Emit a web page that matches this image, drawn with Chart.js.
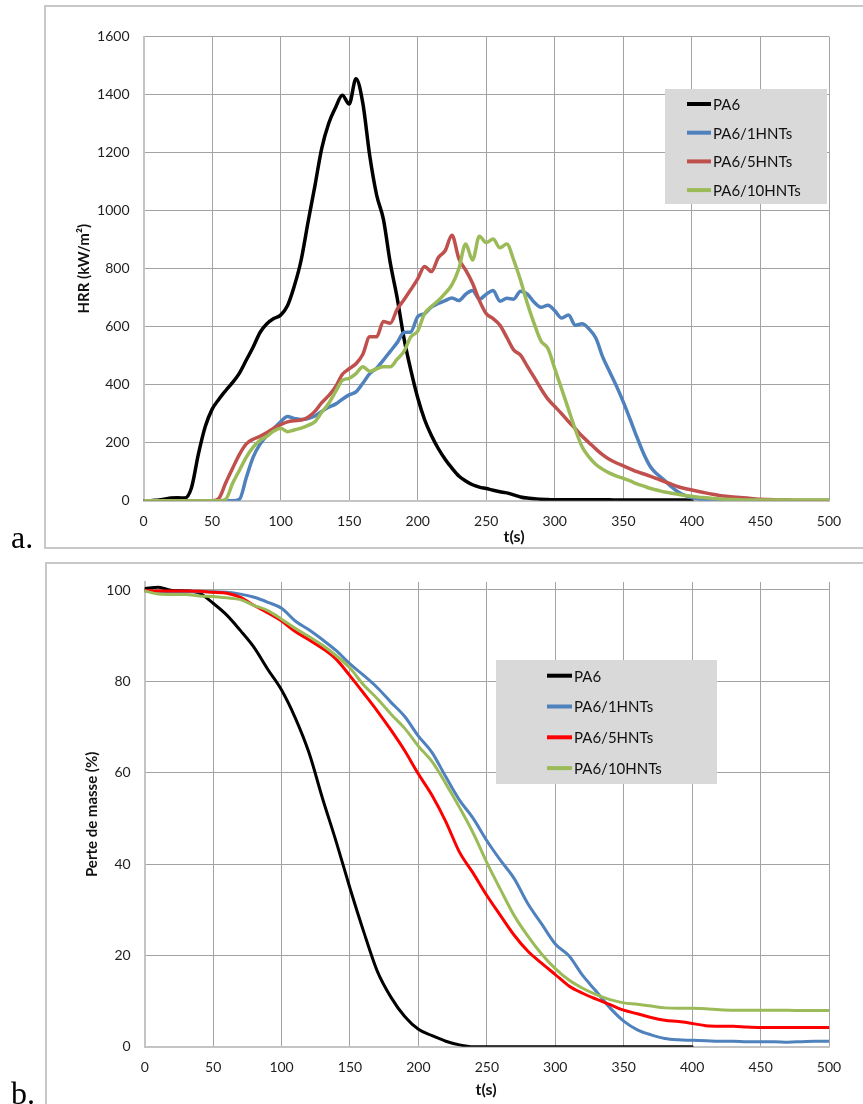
<!DOCTYPE html>
<html>
<head>
<meta charset="utf-8">
<script src="https://cdn.jsdelivr.net/npm/chart.js@4.4.1/dist/chart.umd.min.js"></script>
<style>
  body { margin: 0; background: #fff; width: 863px; height: 1104px; overflow: hidden; position: relative; }
  .frame { position: absolute; border: 2px solid #c8c8c8; box-sizing: border-box; }
  #frameA { left: 44px; top: 5px; width: 900px; height: 544px; }
  #frameB { left: 45px; top: 562px; width: 900px; height: 600px; }
  canvas { position: absolute; left: 0; }
  #chartA { top: 0; }
  #chartB { top: 556px; }
  .tag { position: absolute; left: 11px; font-family: "Liberation Serif", "Times New Roman", serif; font-size: 32px; line-height: 32px; color: #000; }
</style>
</head>
<body>
<div class="frame" id="frameA"></div>
<div class="frame" id="frameB"></div>
<canvas id="chartA" width="863" height="548"></canvas>
<canvas id="chartB" width="863" height="548"></canvas>
<div class="tag" style="top:521px">a.</div>
<div class="tag" style="top:1077px">b.</div>
<script>
// ---------- données ----------
const seriesNames = ["PA6", "PA6/1HNTs", "PA6/5HNTs", "PA6/10HNTs"];
const timeTicks = [0, 50, 100, 150, 200, 250, 300, 350, 400, 450, 500];
const hrrTicks = [0, 200, 400, 600, 800, 1000, 1200, 1400, 1600];
const massTicks = [0, 20, 40, 60, 80, 100];

// HRR (kW/m²), pas de 5 s
const hrrTime = [
  0, 5, 10, 15, 20, 25, 30, 35, 40, 45,
  50, 55, 60, 65, 70, 75, 80, 85, 90, 95,
  100, 105, 110, 115, 120, 125, 130, 135, 140, 145,
  150, 155, 160, 165, 170, 175, 180, 185, 190, 195,
  200, 205, 210, 215, 220, 225, 230, 235, 240, 245,
  250, 255, 260, 265, 270, 275, 280, 285, 290, 295,
  300, 305, 310, 315, 320, 325, 330, 335, 340, 345,
  350, 355, 360, 365, 370, 375, 380, 385, 390, 395,
  400, 405, 410, 415, 420, 425, 430, 435, 440, 445,
  450, 455, 460, 465, 470, 475, 480, 485, 490, 495,
  500
];
const hrrPA6 = [
  0, 0, 2, 5, 9, 10, 9, 45, 160, 255,
  315, 350, 380, 408, 440, 485, 530, 580, 610, 628,
  640, 672, 740, 830, 960, 1085, 1215, 1300, 1355, 1398,
  1368, 1455, 1370, 1190, 1055, 970, 820, 700, 560, 450,
  355, 280, 225, 180, 143, 112, 85, 68, 55, 47,
  42, 36, 31, 27, 20, 13, 9, 7, 5, 4,
  3, 3, 3, 3, 3, 3, 3, 3, 3, 2,
  2, 2, 2, 2, 2, 2, 2, 2, 2, 2,
  1
];
const hrr1HNT = [
  0, 0, 0, 0, 0, 0, 0, 0, 0, 0,
  0, 0, 0, 0, 5, 80, 150, 195, 225, 248,
  272, 290, 284, 280, 283, 292, 308, 322, 333, 350,
  365, 375, 405, 438, 457, 485, 515, 545, 580, 582,
  635, 645, 668, 680, 690, 699, 690, 712, 725, 695,
  712, 725, 688, 698, 695, 722, 712, 684, 667, 674,
  655, 630, 640, 605, 610, 592, 560, 495, 445, 395,
  340, 280, 218, 160, 115, 90, 70, 48, 30, 18,
  10, 6, 3, 1, 1, 1, 1, 1, 1, 1,
  1, 1, 1, 1, 1, 1, 1, 1, 1, 1,
  1
];
const hrr5HNT = [
  0, 0, 0, 0, 0, 0, 0, 0, 0, 0,
  0, 8, 62, 112, 160, 196, 212, 222, 235, 250,
  262, 272, 276, 278, 288, 308, 338, 362, 392, 435,
  455, 472, 505, 565, 565, 618, 612, 660, 693, 728,
  765, 808, 790, 838, 862, 915, 835, 795, 750, 690,
  645, 628, 605, 563, 520, 502, 463, 425, 385, 350,
  325, 300, 273, 248, 222, 200, 178, 158, 142, 130,
  120, 110, 100, 92, 84, 75, 66, 57, 48, 42,
  37, 32, 27, 22, 18, 15, 13, 11, 9, 7,
  5, 4, 3, 2, 2, 1, 1, 1, 1, 1,
  1
];
const hrr10HNT = [
  0, 0, 0, 0, 0, 0, 0, 0, 0, 0,
  0, 0, 5, 60, 105, 150, 185, 208, 222, 240,
  250, 238, 244, 250, 260, 272, 305, 335, 375, 415,
  422, 438, 462, 446, 455, 462, 462, 488, 515, 565,
  585, 645, 670, 690, 715, 745, 800, 885, 830, 912,
  890, 902, 872, 885, 830, 760, 680, 610, 550, 525,
  455, 385, 315, 245, 185, 150, 125, 108, 95, 85,
  77, 68, 58, 50, 42, 36, 30, 26, 22, 18,
  15, 12, 10, 8, 6, 5, 4, 3, 2, 2,
  2, 2, 2, 2, 2, 2, 2, 2, 2, 2,
  2
];

// Perte de masse (%), pas de 10 s
const massTime = [
  0, 10, 20, 30, 40, 50, 60, 70, 80, 90,
  100, 110, 120, 130, 140, 150, 160, 170, 180, 190,
  200, 210, 220, 230, 240, 250, 260, 270, 280, 290,
  300, 310, 320, 330, 340, 350, 360, 370, 380, 390,
  400, 410, 420, 430, 440, 450, 460, 470, 480, 490,
  500
];
const massPA6 = [
  100.3, 100.6, 99.9, 99.8, 99.3, 97.1, 94.5, 91.1, 87.4, 82.6,
  78.1, 72.0, 64.4, 54.3, 44.8, 34.7, 25.2, 16.5, 10.8, 6.6,
  3.8, 2.4, 1.2, 0.4, 0, 0, 0, 0, 0, 0,
  0, 0, 0, 0, 0, 0, 0, 0, 0, 0,
  0
];
const mass1HNT = [
  99.8, 99.7, 99.6, 99.6, 99.6, 99.6, 99.5, 99.1, 98.4, 97.3,
  96.0, 93.2, 91.3, 89.1, 86.7, 83.8, 81.3, 78.6, 75.4, 72.3,
  68.0, 64.4, 59.1, 54.0, 50.0, 45.1, 40.8, 36.8, 31.3, 26.9,
  22.5, 19.9, 15.6, 12.1, 8.5, 5.6, 3.7, 2.6, 1.8, 1.5,
  1.4, 1.3, 1.2, 1.2, 1.1, 1.1, 1.1, 1.0, 1.1, 1.2,
  1.2
];
const mass5HNT = [
  99.9, 99.8, 99.8, 99.8, 99.7, 99.5, 99.3, 98.4, 96.6, 95.0,
  93.2, 90.9, 89.1, 87.2, 84.8, 81.2, 77.4, 73.5, 69.3, 64.8,
  59.7, 55.0, 49.3, 42.6, 38.0, 33.1, 28.7, 24.4, 20.9, 18.3,
  15.8, 13.3, 11.7, 10.4, 9.2, 8.0, 7.2, 6.4, 5.8, 5.5,
  5.1, 4.6, 4.5, 4.5, 4.3, 4.2, 4.2, 4.2, 4.2, 4.2,
  4.2
];
const mass10HNT = [
  99.8, 99.1, 99.0, 99.0, 98.7, 98.6, 98.3, 97.9, 96.6, 95.5,
  93.6, 91.6, 89.8, 87.9, 85.6, 82.9, 79.2, 76.2, 72.8, 69.7,
  65.8, 62.4, 57.6, 52.4, 46.8, 40.3, 34.4, 28.7, 24.2, 20.3,
  17.1, 14.6, 12.8, 11.4, 10.3, 9.6, 9.3, 8.9, 8.5, 8.4,
  8.4, 8.3, 8.1, 8.0, 8.0, 8.0, 8.0, 8.0, 7.9, 7.9,
  7.9
];

// ---------- helpers ----------
const toPoints = (times, vals) => vals.map((v, i) => ({ x: times[i], y: v }));

function makeDataset(label, times, vals, color, width, order) {
  return {
    label,
    data: toPoints(times, vals),
    borderColor: color,
    borderWidth: width,
    pointRadius: 0,
    fill: false,
    cubicInterpolationMode: "monotone",
    borderJoinStyle: "round",
    borderCapStyle: "round",
    order,
  };
}

const tickFont = { family: "Lato", size: 14 };
const gridStyle = { color: "#a3a3a3", lineWidth: 1, drawTicks: false };
const borderStyle = { color: "#c4c4c4", width: 2 };
const plainNumber = (v) => String(v);

function makeScales(yTicks, yMax, yWidth, xHeight) {
  return {
    x: {
      type: "linear",
      min: 0,
      max: 500,
      afterBuildTicks: (a) => { a.ticks = timeTicks.map((v) => ({ value: v })); },
      afterFit: (a) => { a.height = xHeight; },
      grid: gridStyle,
      border: borderStyle,
      ticks: { padding: 12, color: "#1f1f1f", font: tickFont, maxRotation: 0, autoSkip: false, callback: plainNumber },
    },
    y: {
      type: "linear",
      min: 0,
      max: yMax,
      afterBuildTicks: (a) => { a.ticks = yTicks.map((v) => ({ value: v })); },
      afterFit: (a) => { a.width = yWidth; },
      grid: gridStyle,
      border: borderStyle,
      ticks: { padding: 14, color: "#1f1f1f", font: tickFont, autoSkip: false, callback: plainNumber },
    },
  };
}

// titres d'axes + légende grise
const decor = {
  id: "decor",
  afterDraw(chart, args, o) {
    const { ctx, chartArea } = chart;
    ctx.save();
    ctx.fillStyle = "#111";
    ctx.textAlign = "center";
    ctx.textBaseline = "middle";
    ctx.font = "bold " + o.yTitleSize + "px Lato";
    ctx.save();
    ctx.translate(o.yTitleX, (chartArea.top + chartArea.bottom) / 2);
    ctx.rotate(-Math.PI / 2);
    ctx.fillText(o.yTitle, 0, 0);
    ctx.restore();
    ctx.font = "bold 16px Lato";
    ctx.fillText(o.xTitle, o.xTitleX, o.xTitleY);

    const L = o.legend;
    ctx.fillStyle = "#d9d9d9";
    ctx.fillRect(L.x, L.y, L.w, L.h);
    ctx.font = "15px Lato";
    ctx.textAlign = "left";
    chart.data.datasets.forEach((ds, i) => {
      const y = L.firstRow + i * L.rowGap;
      ctx.strokeStyle = ds.borderColor;
      ctx.lineWidth = 4;
      ctx.beginPath();
      ctx.moveTo(L.lineX, y);
      ctx.lineTo(L.lineX + L.lineLen, y);
      ctx.stroke();
      ctx.fillStyle = "#111";
      ctx.fillText(ds.label, L.lineX + L.lineLen + 2, y + 1);
    });
    ctx.restore();
  },
};

// ---------- graphique a : HRR ----------
new Chart(document.getElementById("chartA"), {
  type: "line",
  data: {
    datasets: [
      makeDataset(seriesNames[0], hrrTime, hrrPA6, "#000000", 3.5, 3),
      makeDataset(seriesNames[1], hrrTime, hrr1HNT, "#4f81bd", 3.5, 2),
      makeDataset(seriesNames[2], hrrTime, hrr5HNT, "#c0504d", 3.5, 1),
      makeDataset(seriesNames[3], hrrTime, hrr10HNT, "#9bbb59", 3.5, 0),
    ],
  },
  options: {
    responsive: false,
    animation: false,
    events: [],
    layout: { padding: { top: 36.7, right: 34, bottom: 0, left: 0 } },
    scales: makeScales(hrrTicks, 1600, 143.5, 47.3),
    plugins: {
      legend: { display: false },
      tooltip: { enabled: false },
      decor: {
        yTitle: "HRR (kW/m²)",
        yTitleSize: 15,
        yTitleX: 84,
        xTitle: "t(s)",
        xTitleX: 514,
        xTitleY: 537,
        legend: { x: 665, y: 89, w: 162, h: 115, lineX: 687, lineLen: 24, firstRow: 104, rowGap: 28.7 },
      },
    },
  },
  plugins: [decor],
});

// ---------- graphique b : perte de masse ----------
new Chart(document.getElementById("chartB"), {
  type: "line",
  data: {
    datasets: [
      makeDataset(seriesNames[0], massTime, massPA6, "#000000", 3, 3),
      makeDataset(seriesNames[1], massTime, mass1HNT, "#4f81bd", 3, 2),
      makeDataset(seriesNames[2], massTime, mass5HNT, "#ff0000", 3, 1),
      makeDataset(seriesNames[3], massTime, mass10HNT, "#9bbb59", 3, 0),
    ],
  },
  options: {
    responsive: false,
    animation: false,
    events: [],
    layout: { padding: { top: 26, right: 34, bottom: 0, left: 0 } },
    scales: makeScales(massTicks, 101.75, 144.7, 57.3),
    plugins: {
      legend: { display: false },
      tooltip: { enabled: false },
      decor: {
        yTitle: "Perte de masse (%)",
        yTitleSize: 15,
        yTitleX: 92,
        xTitle: "t(s)",
        xTitleX: 486,
        xTitleY: 534,
        legend: { x: 496, y: 104, w: 221, h: 124, lineX: 547, lineLen: 25, firstRow: 119.7, rowGap: 30.8 },
      },
    },
  },
  plugins: [decor],
});
</script>
</body>
</html>
